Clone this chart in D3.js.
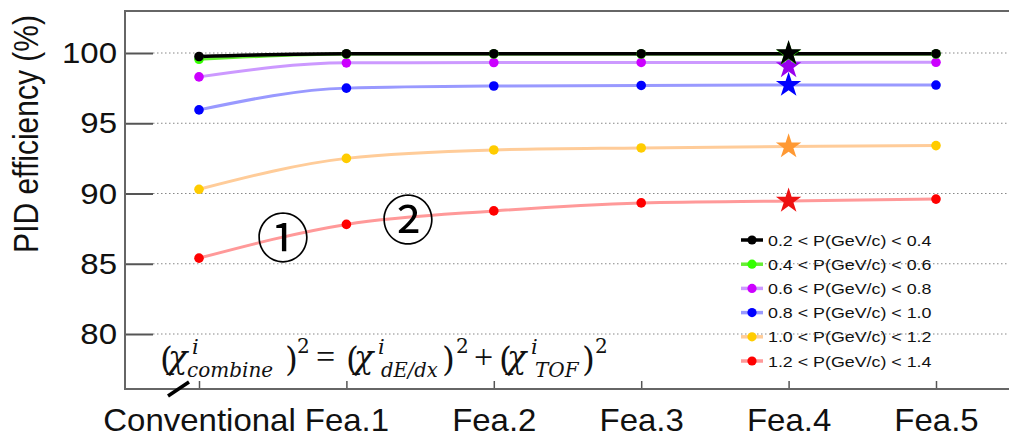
<!DOCTYPE html>
<html><head><meta charset="utf-8">
<script src="https://cdn.jsdelivr.net/npm/d3@7"></script>
<style>
html,body{margin:0;padding:0;background:#fff;}
svg{display:block;}
</style></head>
<body>
<svg id="chart" width="1009" height="437"></svg>
<script>
// ---------------- data ----------------
const categories = ["Conventional", "Fea.1", "Fea.2", "Fea.3", "Fea.4", "Fea.5"];
const yTicks = [80, 85, 90, 95, 100];
const seriesNames = [
  "0.2 < P(GeV/c) < 0.4",
  "0.4 < P(GeV/c) < 0.6",
  "0.6 < P(GeV/c) < 0.8",
  "0.8 < P(GeV/c) < 1.0",
  "1.0 < P(GeV/c) < 1.2",
  "1.2 < P(GeV/c) < 1.4"
];
const vals_02_04 = [99.75, 99.95, 99.95, 99.95, 99.95, 99.95];
const vals_04_06 = [99.55, 99.92, 99.93, 99.93, 99.93, 99.93];
const vals_06_08 = [98.30, 99.30, 99.32, 99.33, 99.33, 99.34];
const vals_08_10 = [95.95, 97.50, 97.65, 97.69, 97.72, 97.72];
const vals_10_12 = [90.30, 92.50, 93.10, 93.24, 93.34, 93.41];
const vals_12_14 = [85.40, 87.80, 88.76, 89.33, 89.47, 89.60];
// star markers at Fea.4
const starCategory = "Fea.4";
const starValues = [99.97, 99.93, 99.05, 97.72, 93.34, 89.47];
const lineColors = ["#000000", "#66ee33", "#cc99ff", "#9999ff", "#ffcc99", "#ff9999"];
const dotColors  = ["#000000", "#33ff00", "#cc00ff", "#0000ff", "#ffcc00", "#ff0000"];
const starColors = ["#000000", "#33ff00", "#9900ee", "#0000ff", "#ff9933", "#ee1111"];
const allValues = [vals_02_04, vals_04_06, vals_06_08, vals_08_10, vals_10_12, vals_12_14];

// ---------------- layout ----------------
const svg = d3.select("#chart");
const frameL = 125, frameT = 11, frameB = 389, frameR = 1009;
const x = d3.scalePoint().domain(categories).range([199, 936]);
const y = d3.scaleLinear().domain([80, 100]).range([334, 53]);
const SANS = "'Liberation Sans', Arial, sans-serif";

function stretch(sel, f) {
  sel.each(function () {
    const w = this.getComputedTextLength();
    d3.select(this).attr("textLength", w * f).attr("lengthAdjust", "spacingAndGlyphs");
  });
}

// gridlines
svg.append("g").selectAll("line").data(yTicks).join("line")
  .attr("x1", 153).attr("x2", frameR)
  .attr("y1", d => y(d)).attr("y2", d => y(d))
  .attr("stroke", "#888").attr("stroke-width", 1.2).attr("stroke-dasharray", "1.5,2.5");

// y axis
const gy = svg.append("g").attr("transform", `translate(${frameL},0)`)
  .call(d3.axisLeft(y).tickValues(yTicks).tickSizeInner(-28).tickSizeOuter(0).tickPadding(8).tickFormat(d3.format("d")));
gy.select(".domain").remove();
gy.selectAll(".tick line").attr("stroke", "#555").attr("stroke-width", 2);
gy.selectAll(".tick text").attr("font-family", SANS).attr("font-size", 30).attr("fill", "#111").call(stretch, 1.1);

// x axis
const gx = svg.append("g").attr("transform", `translate(0,${frameB})`)
  .call(d3.axisBottom(x).tickSizeInner(-8).tickSizeOuter(0).tickPadding(19));
gx.select(".domain").remove();
gx.selectAll(".tick line").attr("stroke", "#555").attr("stroke-width", 1.5);
gx.selectAll(".tick text").attr("font-family", SANS).attr("font-size", 32).attr("fill", "#111").call(stretch, 1.03);

// frame
svg.append("path")
  .attr("d", `M${frameR},${frameT}H${frameL}V${frameB}H${frameR}`)
  .attr("fill", "none").attr("stroke", "#666").attr("stroke-width", 2);

// y label
svg.append("text")
  .attr("transform", `translate(38,134) scale(1.18,1) rotate(-90)`)
  .attr("text-anchor", "middle").attr("font-family", SANS).attr("font-size", 30).attr("fill", "#111")
  .text("PID efficiency (%)");

// lines
const line = d3.line().x((d, i) => x(categories[i])).y(d => y(d)).curve(d3.curveMonotoneX);
const order = [5, 4, 3, 2, 1, 0];
order.forEach(s => {
  svg.append("path").datum(allValues[s]).attr("d", line)
    .attr("fill", "none").attr("stroke", lineColors[s]).attr("stroke-width", s === 0 ? 3.5 : 3);
});
order.forEach(s => {
  svg.append("g").selectAll("circle")
    .data(allValues[s].map((v, i) => ({ v, c: categories[i] })).filter(d => d.c !== starCategory))
    .join("circle")
    .attr("cx", d => x(d.c)).attr("cy", d => y(d.v)).attr("r", 4.8)
    .attr("fill", dotColors[s]);
});
const star = d3.symbol().type(d3.symbolStar).size(200);
order.forEach(s => {
  svg.append("path").attr("d", star())
    .attr("transform", `translate(${x(starCategory)},${y(starValues[s])})`)
    .attr("fill", starColors[s]);
});

// legend
const lg = svg.append("g");
seriesNames.forEach((name, i) => {
  const ly = 240 + i * 24.2;
  lg.append("line").attr("x1", 741).attr("x2", 763).attr("y1", ly).attr("y2", ly)
    .attr("stroke", lineColors[i]).attr("stroke-width", 3.5);
  lg.append("circle").attr("cx", 752).attr("cy", ly).attr("r", 4.6).attr("fill", dotColors[i]);
  lg.append("text").attr("x", 768).attr("y", ly).attr("dy", "0.36em")
    .attr("font-family", SANS).attr("font-size", 15.5).attr("fill", "#111")
    .text(name).call(stretch, 1.15);
});

// circled annotations
svg.append("text").attr("x", 283).attr("y", 239).attr("text-anchor", "middle").attr("dy", "0.36em")
  .attr("font-family", "'Noto Sans CJK JP'").attr("font-size", 53).attr("fill", "#000").text("①");
svg.append("text").attr("x", 408).attr("y", 221).attr("text-anchor", "middle").attr("dy", "0.36em")
  .attr("font-family", "'Noto Sans CJK JP'").attr("font-size", 53).attr("fill", "#000").text("②");

// formula as one text element built from tspans
const DVS = "'DejaVu Serif', serif";
const LIB = "'Liberation Serif', serif";
const B = 371, SUB = 377, SUP_I = 354, SUP_2 = 353;
const formulaPieces = [
  ["(", 160, B, 33, false, DVS], ["χ", 168, B - 3, 32, true, DVS], ["i", 192, SUP_I, 21, true, DVS],
  ["combine", 187, SUB, 20, true, DVS], [")", 285, B, 33, false, DVS], ["2", 297, SUP_2, 20, false, DVS],
  ["=", 316, B - 3, 34, false, LIB],
  ["(", 346, B, 33, false, DVS], ["χ", 354, B - 3, 32, true, DVS], ["i", 378, SUP_I, 21, true, DVS],
  ["dE/dx", 381, SUB, 19.5, true, DVS], [")", 442, B, 33, false, DVS], ["2", 456, SUP_2, 20, false, DVS],
  ["+", 474, B - 3, 34, false, LIB],
  ["(", 499, B, 33, false, DVS], ["χ", 507, B - 3, 32, true, DVS], ["i", 531, SUP_I, 21, true, DVS],
  ["TOF", 535, SUB, 20, true, DVS], [")", 582, B, 33, false, DVS], ["2", 595, SUP_2, 20, false, DVS]
];
const ft = svg.append("text").attr("fill", "#111");
formulaPieces.forEach(([t, px, py, sz, it, fam]) => {
  ft.append("tspan").attr("x", px).attr("y", py).attr("font-size", sz)
    .attr("font-family", fam).attr("font-style", it ? "italic" : "normal").text(t);
});
// pointer stroke
svg.append("line").attr("x1", 168).attr("y1", 396).attr("x2", 189).attr("y2", 382)
  .attr("stroke", "#000").attr("stroke-width", 3.5);
</script>
</body></html>
